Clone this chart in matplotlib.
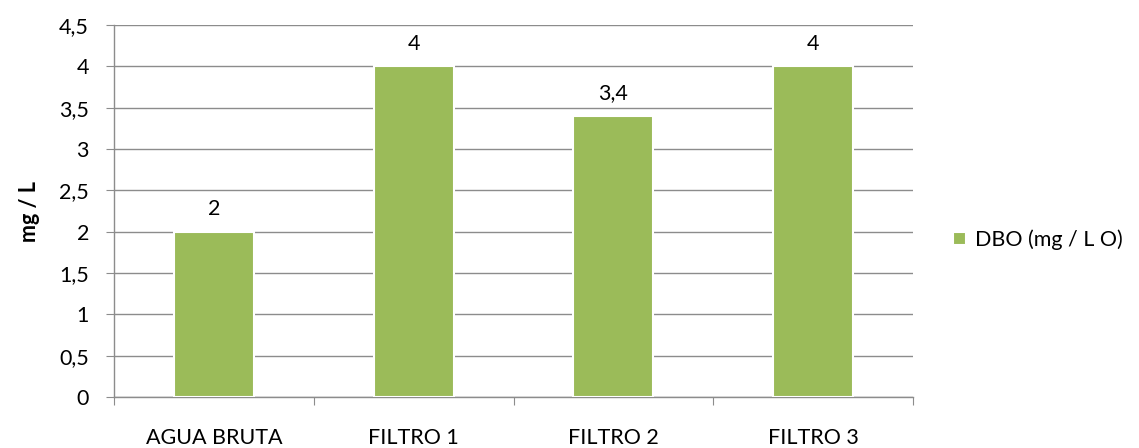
import numpy as np
import matplotlib.pyplot as plt

plt.rcParams['font.family'] = ['Lato', 'DejaVu Sans']

# data
categorias = ['AGUA BRUTA', 'FILTRO 1', 'FILTRO 2', 'FILTRO 3']
dbo = [2, 4, 3.4, 4]
rotulos = ['2', '4', '3,4', '4']
yticks = [0, 0.5, 1, 1.5, 2, 2.5, 3, 3.5, 4, 4.5]
ytick_labels = ['0', '0,5', '1', '1,5', '2', '2,5', '3', '3,5', '4', '4,5']

fs = 15.5

fig = plt.figure(figsize=(11.39, 4.48), dpi=100)
ax = fig.add_axes([0.1001, 0.1138, 0.7015, 0.8304])

x = np.arange(len(categorias))
bars = ax.bar(x, dbo, width=0.4, color='#9BBB59', edgecolor='white',
              linewidth=1.5, label='DBO (mg / L O)', zorder=3)

for b, t in zip(bars, rotulos):
    ax.text(b.get_x() + b.get_width() / 2, b.get_height() + 0.15, t,
            ha='center', va='bottom', fontsize=fs)

ax.set_xlim(-0.5, len(categorias) - 0.5)
ax.set_ylim(0, 4.5)
ax.set_yticks(yticks)
ax.set_yticklabels(ytick_labels, fontsize=fs)
ax.yaxis.grid(True, color='#8c8c8c', linewidth=1, zorder=0)

# category labels between boundary ticks
ax.set_xticks(np.arange(-0.5, len(categorias)), minor=False)
ax.set_xticklabels([])
ax.set_xticks(x, minor=True)
ax.set_xticklabels(categorias, minor=True, fontsize=fs)
ax.tick_params(axis='x', which='minor', length=0, pad=22)
ax.tick_params(axis='x', which='major', length=6, color='#8c8c8c')
ax.tick_params(axis='y', length=6, color='#8c8c8c', pad=12)

for s in ['top', 'right']:
    ax.spines[s].set_visible(False)
for s in ['left', 'bottom']:
    ax.spines[s].set_color('#8c8c8c')
    ax.spines[s].set_linewidth(1)

ax.set_ylabel('mg / L', fontsize=fs, fontweight='bold', labelpad=14)

fig.legend(loc='center left', bbox_to_anchor=(0.82, 0.465), frameon=False,
           fontsize=fs, handlelength=0.6, handleheight=0.6, handletextpad=0.4)

fig.savefig('out.png', dpi=100)
